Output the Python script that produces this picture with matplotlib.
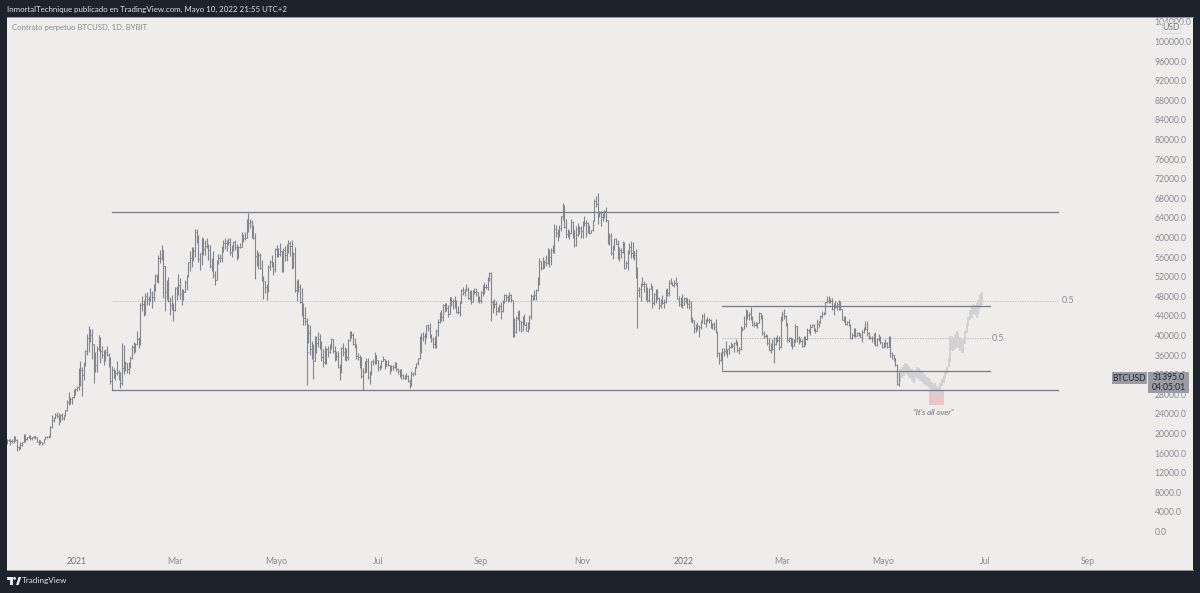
import matplotlib
matplotlib.use("Agg")
import matplotlib.pyplot as plt
import matplotlib.dates as mdates
import numpy as np
import pandas as pd
from matplotlib.patches import Rectangle, Polygon, Circle
from matplotlib.transforms import Affine2D

# daily BTCUSD bars, in thousands, from 2020-11-20 to 2022-05-10
closes = [
    18.7,18.7,18.4,18.4,19.2,18.7,17.2,17.1,17.7,18.2,19.7,
    18.8,19.2,19.4,19.0,19.2,19.4,19.2,18.3,18.6,18.3,18.0,18.8,19.2,19.3,19.4,21.3,22.8,23.1,23.8,23.5,22.7,23.8,23.2,23.7,24.7,26.4,26.3,27.0,27.4,28.9,29.0,
    29.4,32.2,33.0,32.0,34.0,36.8,39.4,40.6,40.2,38.2,35.5,33.9,37.3,39.2,36.8,36.0,35.8,36.6,36.0,35.5,30.8,33.0,32.1,32.3,32.5,32.5,30.4,33.4,34.3,34.3,33.1,
    33.5,35.5,37.7,36.9,38.3,39.3,38.9,46.2,46.5,45.0,48.0,47.4,47.2,48.7,47.9,49.2,52.2,51.6,55.9,55.8,57.4,54.1,48.9,49.7,47.0,46.3,46.2,45.2,
    49.6,48.4,50.4,48.4,48.8,48.9,51.0,52.3,54.9,55.9,57.8,57.2,61.2,59.0,55.6,56.9,58.9,57.6,58.3,58.1,57.4,54.1,54.3,52.3,51.3,55.0,55.8,55.8,57.6,58.8,58.8,
    58.7,59.0,57.1,58.2,59.1,58.0,56.0,58.1,58.1,59.8,60.0,59.9,63.6,62.9,63.2,61.4,60.0,56.2,55.7,56.5,53.8,51.7,51.1,50.0,49.0,54.0,55.0,54.9,53.6,57.7,
    57.8,56.6,57.2,53.2,57.5,56.4,57.4,58.9,58.2,55.9,56.7,49.2,49.7,49.9,46.8,46.4,43.6,42.9,36.7,40.6,37.3,37.5,34.7,38.8,38.4,39.3,38.4,35.7,34.6,35.7,37.3,
    36.7,37.6,39.2,36.9,35.5,35.8,33.6,33.4,37.4,36.7,37.3,35.6,39.0,40.5,40.2,38.3,38.1,35.8,35.6,35.6,31.7,32.5,33.7,34.7,31.6,32.3,34.7,34.5,36.0,35.0,
    33.6,33.8,34.7,35.3,33.7,34.2,33.9,32.9,33.8,33.5,34.3,33.1,32.7,32.8,31.9,31.4,31.5,31.8,30.8,29.8,32.1,32.3,33.6,34.3,35.4,37.3,39.5,40.0,40.0,42.2,41.5,
    39.9,39.2,38.2,39.7,40.9,42.8,44.6,43.8,46.3,45.6,45.6,44.4,47.8,47.1,47.0,46.0,44.8,44.8,46.7,49.3,48.9,49.3,49.5,47.7,49.0,46.9,49.0,48.9,48.8,47.0,47.2,
    48.8,49.3,50.0,49.9,51.8,52.7,46.9,46.1,46.4,44.9,45.2,46.1,44.9,47.1,48.2,47.8,47.3,48.3,47.3,43.0,40.7,43.6,44.9,42.9,42.7,43.2,42.2,41.0,41.5,43.8,
    48.1,47.7,48.2,49.2,51.5,55.3,53.8,53.9,54.9,54.7,57.5,56.0,57.4,57.4,61.7,60.9,61.5,62.0,64.3,66.0,62.2,60.7,61.3,60.9,63.1,60.3,58.5,60.6,62.2,61.9,61.3,
    63.2,62.9,62.9,61.4,61.0,61.5,63.3,67.5,66.9,64.9,64.9,64.1,64.4,65.5,63.6,60.1,60.4,56.9,58.1,59.7,58.7,56.3,57.5,57.1,58.9,53.7,54.7,57.3,58.0,56.9,
    57.2,56.5,53.6,49.2,49.4,50.6,50.6,50.5,47.7,47.2,49.4,50.1,46.7,48.4,48.9,47.6,46.2,46.9,46.7,46.9,49.0,48.6,50.8,50.8,50.4,50.8,50.7,47.5,46.5,47.1,46.2,
    47.7,47.3,46.4,45.8,43.4,43.1,41.5,41.7,41.9,41.8,42.7,43.9,42.6,43.1,43.1,43.1,42.2,42.4,41.7,40.7,36.5,35.0,36.3,36.7,36.9,36.8,37.2,37.7,38.2,37.9,38.5,
    38.7,37.0,37.3,41.5,41.4,42.4,43.8,44.1,44.4,43.5,42.4,42.2,42.1,42.5,44.5,44.0,40.6,40.0,40.1,38.4,37.0,38.2,37.3,38.3,39.2,39.1,37.7,43.2,
    44.4,44.0,42.5,39.1,39.4,38.4,37.9,38.7,41.9,39.4,38.8,38.9,37.8,39.7,39.3,41.1,40.9,41.8,42.2,41.3,41.0,42.4,42.9,44.0,44.4,44.5,46.8,47.1,47.4,47.1,45.5,
    46.3,45.8,46.4,46.6,45.5,43.2,43.5,42.3,42.8,42.2,39.5,40.1,41.1,39.9,40.5,40.4,39.7,40.8,41.5,41.4,40.5,39.7,39.5,39.4,40.4,38.1,39.2,39.7,38.6,37.6,
    38.5,38.5,37.7,39.7,36.5,36.0,35.5,34.0,30.1,31.0,
]
highs = [
    18.8,18.9,18.8,18.8,19.4,19.5,18.9,17.5,18.2,18.3,19.8,
    19.9,19.3,19.6,19.6,19.2,19.4,19.4,19.3,18.7,18.6,18.3,18.9,19.4,19.4,19.6,21.5,23.7,23.3,24.1,24.3,24.1,23.9,24.1,23.8,24.8,26.9,28.4,27.5,27.5,29.0,29.3,
    29.7,33.3,34.8,33.6,34.5,37.0,40.3,42.0,41.4,41.4,38.3,36.6,37.8,40.1,39.7,37.9,37.0,37.3,37.8,36.4,35.6,33.8,33.4,33.0,34.8,32.9,32.6,38.5,38.0,34.8,34.4,
    34.6,35.9,38.0,38.6,38.5,40.9,39.7,46.7,48.0,47.3,48.6,48.9,48.0,49.7,49.0,50.5,52.6,52.5,56.4,57.5,58.4,57.4,54.2,51.3,52.0,47.9,48.2,46.6,
    49.9,50.2,52.6,51.8,49.4,49.5,51.4,52.4,55.0,57.3,58.1,58.0,61.7,61.7,60.6,56.9,60.1,60.0,59.4,59.9,58.6,58.4,55.8,57.2,53.2,55.4,56.6,56.6,58.3,59.4,59.8,
    59.5,60.0,59.9,58.5,59.3,59.4,58.6,58.2,58.8,61.2,60.7,61.2,63.8,65.0,63.8,63.6,62.5,61.0,57.5,57.1,56.8,55.4,52.1,51.2,50.6,54.4,55.4,56.4,55.1,57.9,
    58.5,57.9,58.9,57.2,57.9,58.3,58.6,59.4,59.2,59.5,57.0,58.0,51.3,51.5,50.6,49.6,46.6,45.8,43.5,42.4,42.2,38.8,38.2,39.8,39.8,40.8,40.4,38.8,37.2,37.8,37.5,
    37.9,38.2,39.4,39.3,37.9,36.8,36.9,34.1,37.6,38.4,37.7,37.4,39.3,41.0,40.9,40.5,39.5,38.2,36.4,36.0,35.7,33.3,34.8,35.5,35.5,32.7,34.7,35.2,36.6,36.0,
    35.0,33.9,34.9,35.9,35.3,35.0,35.0,33.9,34.0,33.9,34.6,34.6,33.3,33.1,33.1,32.2,31.9,32.4,31.9,31.1,32.8,32.6,33.6,34.4,35.4,39.8,40.5,40.8,40.6,42.2,42.4,
    42.6,40.4,39.7,39.9,41.3,43.3,44.7,45.3,46.4,46.6,46.7,46.2,47.9,47.9,47.4,48.0,47.2,46.0,47.0,49.4,49.8,49.4,50.5,49.8,49.2,49.2,49.2,49.6,49.6,48.9,48.0,
    49.0,50.4,51.0,50.5,51.9,52.9,52.9,47.3,47.4,47.0,45.9,46.4,46.9,47.2,48.5,48.4,48.2,48.8,48.4,47.3,43.6,44.0,45.0,45.2,43.0,43.9,44.4,42.8,42.7,44.1,
    48.4,48.3,49.2,49.5,51.9,55.8,55.3,56.1,55.5,56.5,57.8,57.6,57.8,58.5,62.8,62.6,61.7,62.6,64.4,67.0,66.6,63.7,61.7,61.5,63.7,63.3,61.5,62.4,62.9,62.4,62.4,
    63.4,64.3,63.5,63.1,62.6,61.6,63.5,67.8,68.5,69.0,65.5,65.4,65.0,65.6,66.3,63.6,60.9,60.9,58.4,60.0,60.0,59.4,58.0,57.8,59.3,59.1,55.3,57.4,58.8,59.2,
    59.0,57.3,57.6,53.9,49.9,50.8,51.9,51.2,50.8,50.0,49.7,50.8,50.2,48.7,49.5,49.4,47.9,47.4,48.3,47.5,49.4,49.6,51.4,51.8,51.0,51.3,52.0,50.7,48.1,47.9,48.5,
    47.9,47.9,47.6,47.5,47.0,43.7,43.2,42.3,42.7,42.2,43.1,44.3,44.5,43.4,43.7,43.5,43.4,42.6,42.7,43.4,41.0,36.7,36.6,37.5,37.5,38.9,37.2,38.0,38.7,38.3,38.7,
    39.2,38.8,37.6,41.9,41.8,43.9,45.4,45.2,44.8,45.8,43.9,43.0,42.7,42.8,44.7,44.6,44.2,40.9,40.4,40.1,39.4,38.4,39.3,39.7,39.7,40.2,39.8,44.0,
    44.9,45.4,44.1,42.5,39.6,39.6,39.5,39.3,42.3,42.0,40.0,39.4,39.3,39.9,39.9,41.5,41.4,42.3,42.4,42.3,41.5,43.3,43.0,44.2,45.1,44.8,46.9,48.1,48.0,47.7,47.6,
    46.6,47.1,46.9,47.2,47.0,45.5,43.9,43.9,42.9,43.4,42.4,40.6,41.5,41.5,40.8,40.7,40.6,41.1,41.7,42.9,42.9,40.8,39.9,39.8,40.6,40.7,39.4,40.3,39.9,38.7,
    38.7,39.2,38.6,40.0,39.8,36.6,36.1,35.5,34.2,32.6,
]
lows = [
    17.8,18.4,17.7,18.0,18.1,18.5,16.4,16.6,16.9,17.5,18.2,
    18.2,18.6,19.0,18.7,18.6,19.0,18.9,18.2,17.7,17.9,17.6,18.0,18.8,19.0,19.1,19.3,21.2,22.4,23.1,23.1,21.8,22.4,22.7,22.8,23.5,24.6,25.9,26.0,26.0,27.2,27.9,
    28.7,28.9,29.7,27.7,30.9,33.7,36.0,36.6,38.7,35.2,30.3,32.6,32.5,36.8,34.4,35.4,33.9,34.8,35.9,33.5,30.1,28.9,31.4,31.0,31.9,30.9,29.3,29.9,32.1,32.8,32.4,
    32.2,33.4,35.3,36.3,36.6,38.1,37.4,38.0,45.1,43.9,44.1,46.3,46.2,47.0,45.7,47.0,49.1,50.9,50.7,54.7,55.5,47.7,45.0,47.2,46.8,44.1,45.2,43.0,
    45.0,47.3,48.2,47.5,46.3,47.2,48.9,49.3,51.9,53.1,53.9,55.3,56.1,58.9,54.9,53.4,54.3,56.4,56.4,57.9,55.5,53.8,53.1,51.8,50.4,51.3,54.6,54.9,55.0,57.0,57.7,
    57.2,58.5,56.5,56.0,57.3,57.4,55.5,55.8,57.8,58.0,59.0,59.4,59.8,61.2,62.0,60.0,59.6,51.5,54.1,53.5,53.6,51.2,47.5,48.7,47.2,48.8,53.3,53.9,52.4,53.0,
    56.1,56.0,56.2,53.0,52.9,55.3,55.2,56.9,56.3,53.6,53.8,48.9,47.0,48.9,46.6,43.9,42.2,42.2,30.0,38.5,36.0,35.2,31.2,34.8,36.4,37.7,37.2,34.7,33.5,34.2,34.2,
    35.7,36.5,37.2,36.4,34.8,34.9,33.4,31.0,32.4,35.8,35.1,34.7,34.9,38.8,39.5,38.1,37.4,35.2,34.9,33.3,31.3,28.8,32.3,32.6,31.2,30.2,32.0,33.9,34.2,34.1,
    32.8,33.0,33.3,34.8,33.2,33.7,33.8,32.2,32.7,33.0,33.3,32.7,32.2,31.6,31.2,31.1,31.1,31.1,30.5,29.3,29.6,31.8,32.0,33.4,33.9,35.2,36.4,38.8,38.3,39.4,41.0,
    39.4,38.7,37.5,37.5,37.4,39.9,42.5,43.0,42.9,44.7,45.1,43.8,44.3,46.0,45.5,45.7,44.5,44.3,43.9,46.7,48.3,48.1,49.1,47.5,47.2,46.4,46.9,48.4,48.0,46.9,46.7,
    46.6,48.0,48.4,49.4,49.3,51.2,43.0,44.5,45.6,44.2,44.7,44.8,43.4,44.8,46.7,47.1,46.8,47.0,46.9,39.6,39.6,40.5,43.1,40.9,40.8,40.9,42.1,40.9,40.7,41.4,
    43.3,47.2,47.2,47.2,49.1,50.4,53.4,53.6,53.7,54.2,54.5,53.9,54.3,56.9,56.8,60.2,59.2,60.2,61.4,63.5,62.0,60.0,60.2,59.7,60.7,59.9,58.1,58.2,60.3,60.7,59.8,
    59.8,62.3,60.2,60.9,60.8,60.9,61.3,63.3,66.3,62.8,64.2,62.3,63.4,63.9,63.2,58.6,58.4,56.5,55.7,57.4,58.6,55.7,55.3,55.9,56.9,53.5,53.7,53.3,56.7,55.9,
    55.8,55.4,51.7,41.5,47.8,47.1,50.1,48.9,47.3,46.8,46.9,49.4,45.7,46.3,46.6,47.3,45.5,45.6,46.4,45.6,46.6,48.1,48.1,50.5,50.2,49.9,50.4,47.4,46.1,45.9,45.7,
    46.2,46.7,45.7,45.5,42.7,42.5,40.6,40.7,41.2,39.7,41.3,42.5,42.3,41.8,42.7,42.6,41.6,41.3,41.1,40.6,35.6,34.1,34.7,32.9,35.8,36.3,35.6,36.2,37.4,37.4,36.7,
    38.0,36.6,36.3,37.0,41.0,41.3,41.7,43.3,43.2,43.1,42.0,41.7,41.9,41.6,42.5,43.4,40.1,39.5,39.7,38.0,36.8,36.4,37.1,34.3,38.1,38.7,37.1,37.5,
    43.0,43.4,41.9,38.6,38.6,37.9,37.2,37.9,38.6,38.6,38.2,38.7,37.6,37.6,38.1,39.0,40.5,40.2,41.7,40.9,40.5,40.9,41.8,42.6,43.6,44.1,44.4,46.6,46.6,46.6,45.2,
    44.2,45.6,45.2,45.2,45.3,43.1,42.8,42.2,42.1,41.9,39.2,39.3,39.6,39.6,39.9,40.0,39.6,38.6,40.6,41.1,39.8,39.2,39.3,38.7,38.3,37.8,37.9,38.9,38.2,37.5,
    37.4,37.7,37.5,37.6,35.6,35.3,34.8,33.7,30.0,29.7,
]

# the faded projection after the last real bar
proj_highs = [33.2,33.5,34.0,34.4,34.2,33.8,33.4,33.2,32.8,33.0,33.5,33.4,32.9,32.5,32.2,32.1,31.6,31.4,31.0,30.5,30.0,30.3,29.6,29.4,30.4,31.2,31.8,32.5,33.6,35.5,39.8,40.0,39.4,40.3,41.0,40.6,39.6,39.2,39.0,41.0,42.5,43.8,45.2,45.8,46.4,46.3,46.6,47.2,48.4,48.8]
proj_lows = [30.8,31.4,31.8,32.4,32.0,31.6,31.4,30.8,30.4,31.0,31.4,31.2,30.8,30.6,30.2,30.0,29.6,29.4,29.0,28.9,28.8,28.9,27.2,27.4,28.8,29.6,30.4,31.2,32.2,33.6,34.6,37.0,36.8,37.2,37.6,37.4,36.8,36.4,36.4,38.2,40.6,42.0,43.2,43.6,44.4,44.2,43.6,44.4,45.4,46.2]

# drawings on the chart
outer_levels = [65.2, 28.9]
outer_mid = 47.05
inner_levels = [46.0, 32.85]
inner_mid = 39.45

x_ticks = ["2021-01-01","2021-03-01","2021-05-01","2021-07-01","2021-09-01","2021-11-01",
           "2022-01-01","2022-03-01","2022-05-01","2022-07-01","2022-09-01"]
x_labels = ["2021","Mar","Mayo","Jul","Sep","Nov","2022","Mar","Mayo","Jul","Sep"]
y_ticks = list(range(0, 108000, 4000))

bg = "#eeedec"
frame = "#1e222d"
bar_color = "#83858c"
text_gray = "#888b93"
line_color = "#7c7d8b"

plt.rcParams["font.family"] = ["Lato", "DejaVu Sans"]

fig = plt.figure(figsize=(12, 5.93), dpi=100, facecolor=frame)
ax = fig.add_axes([7 / 1200, 23 / 593, 1186 / 1200, 553 / 593], facecolor=bg)
# image pixel coordinates for the chrome around the chart
px = Affine2D().scale(1 / 1200, -1 / 593).translate(0, 1) + fig.transFigure

d = mdates.date2num
dates = d(pd.date_range("2020-11-20", periods=len(closes), freq="D"))
opens = [closes[0]] + closes[:-1]
to_price = lambda v: np.array(v) * 1000

ax.vlines(dates, to_price(lows), to_price(highs), color=bar_color, lw=0.8, zorder=3)
ax.hlines(to_price(opens), dates - 0.65, dates, color=bar_color, lw=0.6, zorder=3)
ax.hlines(to_price(closes), dates, dates + 0.65, color=bar_color, lw=0.6, zorder=3)

proj_dates = d(pd.date_range("2022-05-11", periods=len(proj_highs), freq="D"))
ax.vlines(proj_dates, to_price(proj_lows), to_price(proj_highs), color="#d2d2d4", lw=1.4, zorder=2.6)

# range lines and fib midpoints
outer_x = d(pd.to_datetime(["2021-01-22", "2022-08-14"]))
inner_x = d(pd.to_datetime(["2022-01-24", "2022-07-04"]))
for lv in outer_levels:
    ax.plot(outer_x, [lv * 1000] * 2, color=line_color, lw=0.95, zorder=4)
for lv in inner_levels:
    ax.plot(inner_x, [lv * 1000] * 2, color=line_color, lw=0.95, zorder=4)
ax.plot(outer_x, [outer_mid * 1000] * 2, color="#c9c8c8", lw=0.9, ls=(0, (1, 1)), zorder=2)
ax.plot(inner_x, [inner_mid * 1000] * 2, color="#c0bfc0", lw=0.9, ls=(0, (1, 1)), zorder=2)
ax.text(outer_x[1] + 2, outer_mid * 1000, "0.5", color=text_gray, fontsize=6.5, va="center")
ax.text(inner_x[1] + 1, inner_mid * 1000, "0.5", color=text_gray, fontsize=6.5, va="center")

# pink box and its note
box_x = d(pd.to_datetime(["2022-05-28", "2022-06-06"]))
ax.add_patch(Rectangle((box_x[0], 25800), box_x[1] - box_x[0], 3100, color="#e9a9ad", alpha=0.6, lw=0, zorder=2.5))
ax.text(d(pd.Timestamp("2022-05-31")), 24200, "\"It's all over\"", style="italic", color="#6a6d75",
        fontsize=5.7, ha="center", va="center")

ax.set_xlim(d(pd.Timestamp("2020-11-19 22:00")), d(pd.Timestamp("2022-11-03")))
ax.set_ylim(-7857, 105000)
ax.set_xticks(d(pd.to_datetime(x_ticks)))
ax.set_xticklabels(x_labels)
ax.set_yticks(y_ticks)
ax.set_yticklabels(["%.1f" % v for v in y_ticks])
ax.yaxis.tick_right()
ax.tick_params(axis="y", length=0, pad=-27.5, labelsize=6.2, labelcolor=text_gray)
ax.tick_params(axis="x", length=0, pad=-9.2, labelsize=6.2, labelcolor=text_gray)
# the year labels are a little stronger than the months
for lab, txt in zip(ax.get_xticklabels(), x_labels):
    if txt.isdigit():
        lab.set_color("#6f7279")
for s in ["left", "right"]:
    ax.spines[s].set_visible(False)
for s in ["top", "bottom"]:
    ax.spines[s].set_color("#8f9198")
    ax.spines[s].set_linewidth(0.7)

# header and legend
fig.text(7, 9, "InmortalTechnique publicado en TradingView.com, Mayo 10, 2022 21:55 UTC+2", transform=px,
         color="#dfe1e6", fontsize=5.65, va="center")
fig.text(12, 27, "Contrato perpetuo BTCUSD, 1D, BYBIT", transform=px, color=text_gray, fontsize=5.55, va="center")

# USD badge
fig.add_artist(Rectangle((1162, 22), 18, 11, transform=px, facecolor=bg, edgecolor="#d9d9da", lw=0.6))
fig.text(1171, 28, "USD", transform=px, color="#75787f", fontsize=6.2, ha="center", va="center")

# last price labels
fig.add_artist(Rectangle((1112, 372), 35, 12, transform=px, facecolor="#9a9ca3", edgecolor="none"))
fig.text(1129.5, 378.5, "BTCUSD", transform=px, color="#22252c", fontsize=6.2, ha="center", va="center")
fig.add_artist(Rectangle((1148, 372), 41, 21, transform=px, facecolor="#9a9ca3", edgecolor="none"))
fig.text(1168.5, 378, "31395.0", transform=px, color="#22252c", fontsize=6.2, ha="center", va="center")
fig.text(1168.5, 387.5, "04:05:01", transform=px, color="#22252c", fontsize=6.2, ha="center", va="center")

# TradingView mark in the footer
logo = "#e8e9ec"
fig.add_artist(Polygon([(7, 577), (13, 577), (13, 585), (10, 585), (10, 580), (7, 580)], transform=px, color=logo, lw=0))
fig.add_artist(Circle((14.6, 578.4), 1.4, transform=px, color=logo, lw=0))
fig.add_artist(Polygon([(16, 585), (18.6, 577), (21.2, 577), (18.6, 585)], transform=px, color=logo, lw=0))
fig.text(22, 581, "TradingView", transform=px, color="#dfe1e6", fontsize=5.9, va="center")

fig.savefig("out.png", dpi=100, facecolor=frame)
